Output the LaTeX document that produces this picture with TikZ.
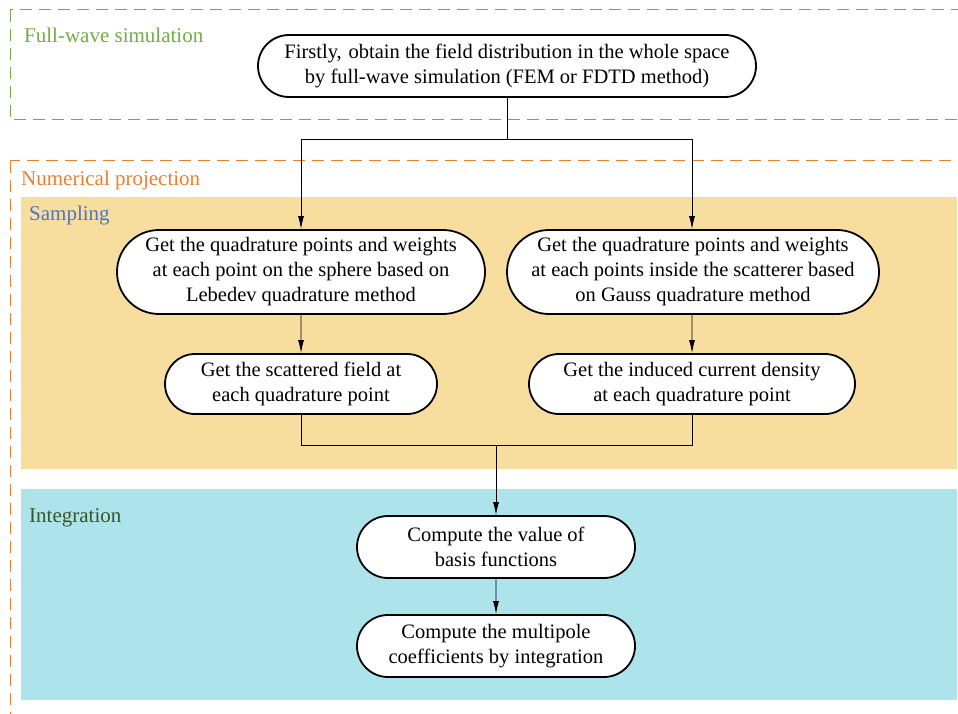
\documentclass[tikz,border=0pt]{standalone}
\usepackage{fontspec}
\setmainfont{Liberation Serif}
\usepackage{tikz}
\usetikzlibrary{shapes.misc,arrows.meta,positioning}
\definecolor{WaveGreen}{RGB}{112,173,71}
\definecolor{ProjOrange}{RGB}{237,125,49}
\definecolor{SampBlue}{RGB}{79,115,190}
\definecolor{IntGreen}{RGB}{55,86,35}
\definecolor{SandFill}{RGB}{248,222,158}
\definecolor{CyanFill}{RGB}{173,228,235}

\begin{document}
\begin{tikzpicture}[x=1pt,y=-1pt,
  step box/.style={draw,line width=1.8pt,fill=white,rounded rectangle,
                   align=center,inner sep=1pt,
                   font=\fontsize{20.5}{25}\selectfont},
  group/.style={dashed,dash pattern=on 12pt off 7pt,line width=1pt},
  grouplabel/.style={anchor=west,font=\fontsize{21}{24}\selectfont,inner sep=0pt},
  link/.style={line width=0.9pt,-{Latex[length=13pt,width=6pt]}},
  plain/.style={line width=0.9pt},
]
\clip (0,0) rectangle (958,714);
\fill[SandFill] (21,197) rectangle (957,469);
\fill[CyanFill] (21,489) rectangle (957,700);
\draw[group,WaveGreen] (10,10) rectangle (975,120);
\draw[group,ProjOrange] (10,161) rectangle (975,740);
\node[grouplabel,text=WaveGreen] (lwave) at (24,35) {Full-wave simulation};
\node[grouplabel,text=ProjOrange] (lproj) at (21,180) {Numerical projection};
\node[grouplabel,text=SampBlue] (lsamp) at (29,215) {Sampling};
\node[grouplabel,text=IntGreen] (lint) at (29,518) {Integration};

\node[step box,minimum width=500pt,minimum height=62pt] (field) at (507,66)
  {Firstly,\,\,obtain the field distribution in the whole space\\by full-wave simulation (FEM or FDTD method)};
\node[step box,minimum width=370pt,minimum height=84pt] (lebedev) at (301,272)
  {Get the quadrature points and weights\\at each point on the sphere based on\\Lebedev quadrature method};
\node[step box,minimum width=374pt,minimum height=84pt] (gauss) at (693,272)
  {Get the quadrature points and weights\\at each points inside the scatterer based\\on Gauss quadrature method};
\node[step box,minimum width=274pt,minimum height=60pt] (scat) at (301,384)
  {Get the scattered field at\\each quadrature point};
\node[step box,minimum width=328pt,minimum height=60pt] (curr) at (692,384)
  {Get the induced current density\\at each quadrature point};
\node[step box,minimum width=280pt,minimum height=62pt] (basis) at (496,547)
  {Compute the value of\\basis functions};
\node[step box,minimum width=280pt,minimum height=62pt] (coef) at (496,646)
  {Compute the multipole\\coefficients by integration};

\coordinate (split) at (507,139);
\coordinate (merge) at (496,445);
\draw[plain] (field) -- (split);
\draw[link] (split) -| (lebedev);
\draw[link] (split) -| (gauss.north -| curr.north);
\draw[link] (lebedev) -- (scat);
\draw[link] (gauss.south -| curr.north) -- (curr);
\draw[plain] (scat) |- (merge);
\draw[plain] (curr) |- (merge);
\draw[link] (merge) -- (basis);
\draw[link] (basis) -- (coef);
\end{tikzpicture}
\end{document}
